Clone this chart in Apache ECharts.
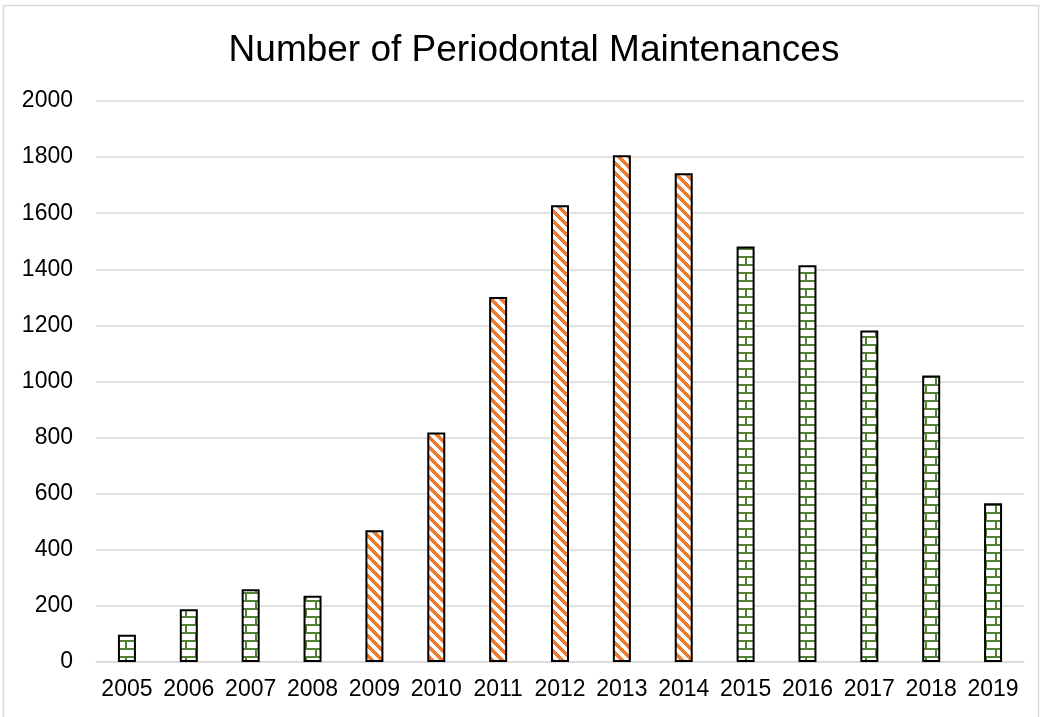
<!DOCTYPE html>
<html>
<head>
<meta charset="utf-8">
<title>Number of Periodontal Maintenances</title>
<script src="https://cdn.jsdelivr.net/npm/echarts@6/dist/echarts.min.js"></script>
<style>
  html, body { margin: 0; padding: 0; background: #fff; }
  #chart { width: 1041px; height: 717px; }
</style>
</head>
<body>
<div id="chart"></div>
<script>
// Years on the category axis
const years = ['2005', '2006', '2007', '2008', '2009', '2010', '2011', '2012',
               '2013', '2014', '2015', '2016', '2017', '2018', '2019'];

// Yearly counts, split into the brick-filled and the striped years
const brickCounts  = [97, 188, 259, 236, null, null, null, null, null, null, 1481, 1414, 1182, 1021, 566];
const stripeCounts = [null, null, null, null, 470, 818, 1301, 1628, 1807, 1742, null, null, null, null, null];

// Value axis ticks
const yTicks = [0, 200, 400, 600, 800, 1000, 1200, 1400, 1600, 1800, 2000];

// Green brick fill
function brickPattern() {
  const c = document.createElement('canvas');
  c.width = 20; c.height = 16;
  const g = c.getContext('2d');
  g.fillStyle = '#ffffff';
  g.fillRect(0, 0, 20, 16);
  g.fillStyle = '#548235';
  g.fillRect(0, 0, 20, 2);
  g.fillRect(0, 8, 20, 2);
  g.fillRect(5, 0, 2, 8);
  g.fillRect(15, 8, 2, 8);
  return c;
}

// Orange downward-diagonal stripes
function stripePattern() {
  const n = 10;
  const c = document.createElement('canvas');
  c.width = n; c.height = n;
  const g = c.getContext('2d');
  g.fillStyle = '#ffffff';
  g.fillRect(0, 0, n, n);
  g.fillStyle = '#ED7D31';
  for (let y = 0; y < n; y++) {
    for (let x = 0; x < n; x++) {
      if (((x - y) % n + n) % n < 5) g.fillRect(x, y, 1, 1);
    }
  }
  return c;
}

const chart = echarts.init(document.getElementById('chart'), null, { renderer: 'canvas' });

const labelFont = { fontFamily: 'Liberation Sans, Arial, sans-serif', fontSize: 23, color: '#000' };

chart.setOption({
  backgroundColor: '#ffffff',
  animation: false,
  title: {
    text: 'Number of Periodontal Maintenances',
    left: 529,
    textAlign: 'center',
    top: 27,
    textStyle: { fontFamily: 'Liberation Sans, Arial, sans-serif', fontSize: 37, fontWeight: 'normal', color: '#000' }
  },
  graphic: [{
    type: 'rect',
    silent: true,
    shape: { x: 3.5, y: 5.5, width: 1035, height: 740 },
    style: { fill: 'none', stroke: '#d9d9d9', lineWidth: 1.5 }
  }],
  grid: { left: 96, right: 17, top: 101, bottom: 55, containLabel: false },
  xAxis: {
    type: 'category',
    data: years,
    axisLine: { show: true, lineStyle: { color: '#d9d9d9', width: 1.5 } },
    axisTick: { show: false },
    axisLabel: Object.assign({ margin: 16, interval: 0 }, labelFont)
  },
  yAxis: {
    type: 'value',
    min: yTicks[0],
    max: yTicks[yTicks.length - 1],
    interval: yTicks[1] - yTicks[0],
    axisLine: { show: false },
    axisTick: { show: false },
    splitLine: { lineStyle: { color: '#d9d9d9', width: 1.5 } },
    axisLabel: Object.assign({ margin: 23, formatter: v => String(v) }, labelFont)
  },
  series: [
    {
      name: 'Brick',
      type: 'bar',
      data: brickCounts,
      barWidth: 18,
      barGap: '-100%',
      itemStyle: {
        color: { image: brickPattern(), repeat: 'repeat' },
        borderColor: '#000',
        borderWidth: 2
      }
    },
    {
      name: 'Stripe',
      type: 'bar',
      data: stripeCounts,
      barWidth: 18,
      barGap: '-100%',
      itemStyle: {
        color: { image: stripePattern(), repeat: 'repeat' },
        borderColor: '#000',
        borderWidth: 2
      }
    }
  ]
});
</script>
</body>
</html>
